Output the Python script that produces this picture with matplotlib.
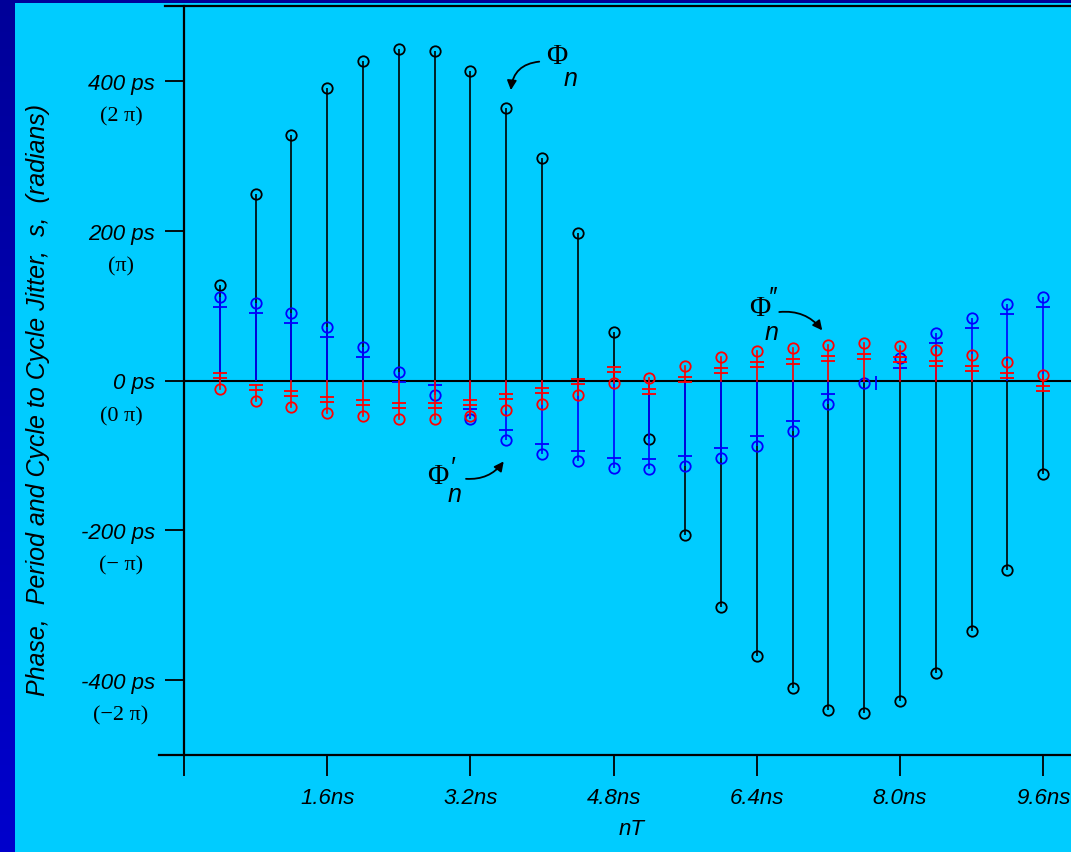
import numpy as np
import matplotlib
matplotlib.use("Agg")
import matplotlib.pyplot as plt
import matplotlib.transforms as mtransforms
from matplotlib.lines import Line2D

W, H = 1071, 853

# cycle index and period (ns)
n = np.arange(1, 25)
T = 0.4

# phase jitter, period jitter, cycle to cycle jitter (ps)
phase = [127, 249, 328, 391, 427, 443, 440, 413, 364, 297, 197, 65,
         -78, -206, -302, -368, -411, -440, -444, -428, -391, -334, -253, -125]
period = [111, 104, 90, 72, 45, 11, -19, -52, -80, -98, -108, -117,
          -118, -114, -104, -88, -67, -32, -3, 30, 63, 84, 102, 112]
c2c = [-12, -27, -36, -43, -48, -51, -51, -47, -40, -32, -20, -3,
       3, 19, 31, 39, 44, 48, 50, 46, 41, 34, 25, 8]

ytick_vals = [400, 200, 0, -200, -400]
ytick_ps = ['400 ps', '200 ps', '0 ps', '-200 ps', '-400 ps']
ytick_rad = ['(2 π)', '(π)', '(0 π)', '(− π)', '(−2 π)']
xtick_vals = [0, 1.6, 3.2, 4.8, 6.4, 8.0, 9.6]
xtick_labels = ['', '1.6ns', '3.2ns', '4.8ns', '6.4ns', '8.0ns', '9.6ns']

SANS = ['Liberation Sans', 'DejaVu Sans']
SERIF = ['Liberation Serif', 'DejaVu Serif']
BG = '#00ccff'


def fx(px):
    return px / W


def fy(py):
    return 1 - py / H


fig = plt.figure(figsize=(W / 100, H / 100), dpi=100)
fig.patch.set_facecolor('#0000aa')

# slide frame: dark blue strip on the left, light panel behind the chart
frame = fig.add_axes([0, 0, 1, 1], zorder=-10)
grad = np.linspace(0, 1, 256).reshape(-1, 1)
frame.imshow(grad, aspect='auto', extent=[0, 1, 0, 1], origin='lower',
             cmap=matplotlib.colors.LinearSegmentedColormap.from_list('b', ['#0000cc', '#000099']))
frame.add_patch(plt.Rectangle((fx(15), 0), 1, fy(4), color=BG, lw=0))
frame.set_xlim(0, 1)
frame.set_ylim(0, 1)
frame.axis('off')

ax = fig.add_axes([fx(184), fy(756), fx(1071) - fx(184), (756 - 7) / H])
ax.set_facecolor('none')
ax.set_xlim(0, (1071 - 184) / 35.8 * T)
ax.set_ylim(-500, 500)
for s in ax.spines.values():
    s.set_visible(False)

x = n * T
k = 1000 / (756 - 7)  # ps per pixel

# phase: plain stems
ax.vlines(x, 0, phase, color='black', lw=1.2, zorder=2)
ax.plot(x, phase, 'o', mfc='none', mec='black', ms=7.5, mew=1.3, zorder=3)

# period: stems with a single bar near the end
ax.vlines(x, 0, period, color='#0000ff', lw=1.2, zorder=4)
ax.plot(x, period, 'o', mfc='none', mec='#0000ff', ms=7.5, mew=1.3, zorder=5)
for xi, v in zip(x, period):
    if abs(v) < 8:
        ax.plot(xi + 12 * T / 35.8, v, '|', color='#0000ff', ms=10, mew=1.3, zorder=5)
    else:
        ax.plot(xi, v - np.sign(v) * 10 * k, '_', color='#0000ff', ms=10, mew=1.3, zorder=5)

# cycle to cycle: stems with a double bar
for xi, v in zip(x, c2c):
    b1 = v - np.sign(v) * 11 * k
    b2 = v - np.sign(v) * 16 * k
    ax.plot([xi, xi], [0 if abs(v) > 22 * k else b2, v], color='#ff0000', lw=1.2, zorder=6)
    ax.plot([xi, xi], [b1, b2], '_', color='#ff0000', ms=10, mew=1.3, zorder=7)
ax.plot(x, c2c, 'o', mfc='none', mec='#ff0000', ms=7.5, mew=1.3, zorder=7)

ax.axhline(0, color='black', lw=1.5, zorder=1)

# axis frame lines
for (x0, y0, x1, y1) in [(165, 7, 1071, 7), (159, 756, 1071, 756), (184, 7, 184, 756)]:
    fig.add_artist(Line2D([fx(x0), fx(x1)], [fy(y0), fy(y1)], color='black', lw=1.6))

ax.set_yticks(ytick_vals)
ax.set_yticklabels(ytick_ps, fontsize=16, style='italic', family=SANS)
ax.tick_params(axis='y', length=14, width=1.3, direction='out', pad=7)
ax.set_xticks(xtick_vals)
ax.set_xticklabels(xtick_labels, fontsize=16, style='italic', family=SANS)
ax.tick_params(axis='x', length=15, width=1.3, direction='out', pad=8)

trans = mtransforms.blended_transform_factory(fig.transFigure, ax.transData)
for v, lab in zip(ytick_vals, ytick_rad):
    ax.text(fx(121), v - 35 * k, lab, transform=trans, ha='center', va='center',
            fontsize=16, family=SERIF)

fig.text(fx(38), fy(400), 'Phase,  Period and Cycle to Cycle Jitter,  s,  (radians)',
         rotation=90, ha='center', va='center', fontsize=18, style='italic', family=SANS)
fig.text(fx(632), fy(830), 'nT', ha='center', va='center', fontsize=16,
         style='italic', family=SANS)

# labels with curved arrows
arrow = dict(arrowstyle='-|>', color='black', lw=1.3, mutation_scale=14)
phi = dict(ha='center', va='center', fontsize=21, family=SERIF)
sub = dict(ha='center', va='center', fontsize=18, style='italic', family=SANS)

ax.annotate('', xy=(3.65, 384), xytext=(4.0, 426),
            arrowprops=dict(arrow, connectionstyle='arc3,rad=0.45'))
ax.text(4.16, 433, 'Φ', **phi)
ax.text(4.32, 404, 'n', **sub)

ax.annotate('', xy=(3.59, -105), xytext=(3.12, -131),
            arrowprops=dict(arrow, connectionstyle='arc3,rad=0.3'))
ax.text(2.84, -127, 'Φ', **phi)
ax.text(3.0, -115, '′', **sub)
ax.text(3.02, -151, 'n', **sub)

ax.annotate('', xy=(7.15, 64), xytext=(6.62, 91),
            arrowprops=dict(arrow, connectionstyle='arc3,rad=-0.3'))
ax.text(6.43, 97, 'Φ', **phi)
ax.text(6.58, 111, '′′', **sub)
ax.text(6.56, 65, 'n', **sub)

fig.savefig('out.png', dpi=100, facecolor=fig.get_facecolor())
